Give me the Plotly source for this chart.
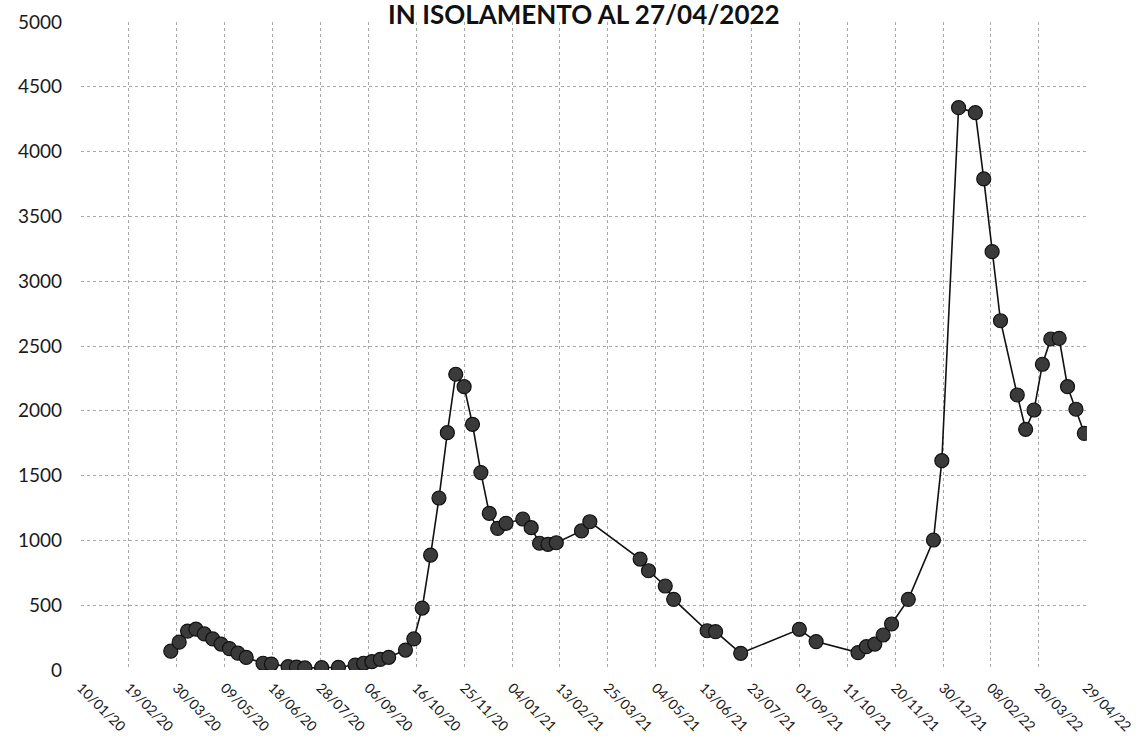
import plotly.graph_objects as go
from datetime import datetime

# ---- data ----
dates = [
    "2020-03-25", "2020-04-01", "2020-04-08", "2020-04-15", "2020-04-22", "2020-04-29",
    "2020-05-06", "2020-05-13", "2020-05-20", "2020-05-27", "2020-06-10", "2020-06-17",
    "2020-07-01", "2020-07-08", "2020-07-15", "2020-07-29", "2020-08-12", "2020-08-26",
    "2020-09-02", "2020-09-09", "2020-09-16", "2020-09-23", "2020-10-07", "2020-10-14",
    "2020-10-21", "2020-10-28", "2020-11-04", "2020-11-11", "2020-11-18", "2020-11-25",
    "2020-12-02", "2020-12-09", "2020-12-16", "2020-12-23", "2020-12-30",
    "2021-01-13", "2021-01-20", "2021-01-27", "2021-02-03", "2021-02-10", "2021-03-03",
    "2021-03-10", "2021-04-21", "2021-04-28", "2021-05-12", "2021-05-19", "2021-06-16",
    "2021-06-23", "2021-07-14", "2021-09-01", "2021-09-15", "2021-10-20", "2021-10-27",
    "2021-11-03", "2021-11-10", "2021-11-17", "2021-12-01", "2021-12-22", "2021-12-29",
    "2022-01-12", "2022-01-26", "2022-02-02", "2022-02-09", "2022-02-16", "2022-03-02",
    "2022-03-09", "2022-03-16", "2022-03-23", "2022-03-30", "2022-04-06", "2022-04-13",
    "2022-04-20", "2022-04-27",
]
isolamento = [
    145, 215, 300, 315, 278, 240,
    200, 165, 130, 97, 52, 46,
    26, 22, 16, 18, 21, 38,
    52, 64, 82, 98, 154, 240,
    478, 887, 1327, 1831, 2282, 2186,
    1896, 1523, 1209, 1093, 1132,
    1165, 1098, 978, 970, 982, 1073,
    1144, 856, 766, 648, 545, 303,
    296, 129, 314, 219, 134, 180,
    200, 270, 355, 545, 1003, 1615,
    4339, 4300, 3789, 3228, 2695, 2122,
    1857, 2006, 2359, 2554, 2559, 2186,
    2012, 1826,
]
tick_labels = [
    "10/01/20", "19/02/20", "30/03/20", "09/05/20", "18/06/20", "28/07/20",
    "06/09/20", "16/10/20", "25/11/20", "04/01/21", "13/02/21", "25/03/21",
    "04/05/21", "13/06/21", "23/07/21", "01/09/21", "11/10/21", "20/11/21",
    "30/12/21", "08/02/22", "20/03/22", "29/04/22",
]
y_ticks = [0, 500, 1000, 1500, 2000, 2500, 3000, 3500, 4000, 4500, 5000]
title_text = "IN ISOLAMENTO AL 27/04/2022"

tick_vals = [datetime.strptime(t, "%d/%m/%y").strftime("%Y-%m-%d") for t in tick_labels]

fig = go.Figure()
fig.add_trace(go.Scatter(
    x=dates, y=isolamento, mode="lines+markers",
    line=dict(color="#111111", width=1.6),
    marker=dict(size=14, color="#3a3a3a", line=dict(color="#111111", width=1.2)),
    showlegend=False,
))

grid_col = "#a8a8a8"
fig.update_layout(
    width=1136, height=740,
    margin=dict(l=81, r=49, t=22, b=70, autoexpand=False),
    paper_bgcolor="white", plot_bgcolor="white",
    title=dict(text=f"<b>{title_text}</b>", x=0.514, xanchor="center",
               y=0.9795, yanchor="middle", yref="container",
               font=dict(family="Lato", size=26, color="#111111")),
    font=dict(family="Lato", color="#1a1a1a"),
)
fig.update_xaxes(
    type="date", range=[tick_vals[0], tick_vals[-1] + " 06:00"],
    tickmode="array", tickvals=tick_vals, ticktext=tick_labels,
    tickangle=45, tickfont=dict(size=14, family="Lato", color="#1a1a1a"),
    showgrid=True, gridcolor=grid_col, griddash="dot", gridwidth=1,
    showline=False, zeroline=False, ticks="", automargin=False,
    ticklabelstandoff=6, ticklabeloverflow="allow",
)
fig.update_yaxes(
    range=[0, 5000], tickmode="array", tickvals=y_ticks,
    tickfont=dict(size=19, family="Lato", color="#1a1a1a"),
    showgrid=True, gridcolor=grid_col, griddash="dot", gridwidth=1,
    showline=False, zeroline=False, ticks="", automargin=False,
    ticklabelstandoff=18,
)

fig.write_html("out.html",
               config={"displayModeBar": False},
               post_script="document.body.style.margin='0';document.body.style.overflow='hidden';")
